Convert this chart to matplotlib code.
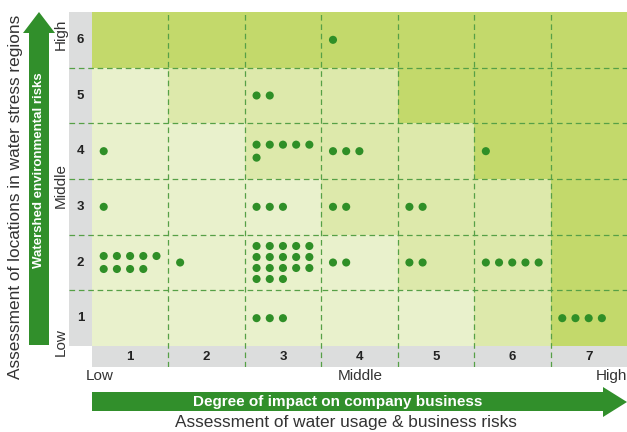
import math
import matplotlib
matplotlib.use("Agg")
import matplotlib.pyplot as plt
from matplotlib.patches import Rectangle, Polygon

plt.rcParams['font.family'] = ['Liberation Sans', 'DejaVu Sans']

# ---------------- data ----------------
x_categories = ["1", "2", "3", "4", "5", "6", "7"]
y_categories = ["1", "2", "3", "4", "5", "6"]
# risk level of each cell (0 light, 1 medium, 2 dark), rows from 1 (bottom) to 6 (top)
risk_level = [
    [0, 0, 0, 0, 0, 1, 2],
    [0, 0, 0, 0, 1, 1, 2],
    [0, 0, 0, 1, 1, 1, 2],
    [0, 0, 1, 1, 1, 2, 2],
    [0, 1, 1, 1, 2, 2, 2],
    [2, 2, 2, 2, 2, 2, 2],
]
dot_rows = [6, 5, 4, 4, 4, 4, 3, 3, 3, 3, 2, 2, 2, 2, 2, 2, 1, 1]
dot_cols = [4, 3, 1, 3, 4, 6, 1, 3, 4, 5, 1, 2, 3, 4, 5, 6, 3, 7]
dot_counts = [1, 2, 1, 6, 3, 1, 1, 3, 2, 2, 9, 1, 18, 2, 2, 5, 3, 4]
scale_labels = ["Low", "Middle", "High"]
x_title = "Assessment of water usage & business risks"
x_arrow_title = "Degree of impact on company business"
y_title = "Assessment of locations in water stress regions"
y_arrow_title = "Watershed environmental risks"

# ---------------- style ----------------
palette = ["#e9f1cc", "#dde9ab", "#c3d96b"]
gray = "#dcdddd"
dot_color = "#2f8f27"
arrow_color = "#318f2b"
dash_color = "#56a046"
text_color = "#333333"

W, H = 627, 432
fig = plt.figure(figsize=(W / 100, H / 100), dpi=100)


def fx(px):
    return px / W


def fy(py):
    return 1 - py / H


grid_left, grid_right, grid_top, grid_bottom = 92, 627, 12, 346
band_left, band_bottom = 69, 367
colw = (grid_right - grid_left) / 7
rowh = (grid_bottom - grid_top) / 6

ax = fig.add_axes([fx(band_left), fy(band_bottom), fx(grid_right) - fx(band_left),
                   fy(grid_top) - fy(band_bottom)])
xmin = 0.5 - (grid_left - band_left) / colw
ymin = 0.5 - (band_bottom - grid_bottom) / rowh
ax.set_xlim(xmin, 7.5)
ax.set_ylim(ymin, 6.5)
ax.axis('off')

# cells
for ri, row in enumerate(risk_level):
    for ci, lvl in enumerate(row):
        ax.add_patch(Rectangle((ci + 0.5, ri + 0.5), 1, 1, fc=palette[lvl], ec='none', zorder=1))

# gray label bands
ax.add_patch(Rectangle((xmin, 0.5), 0.5 - xmin, 6, fc=gray, ec='none', zorder=1))
ax.add_patch(Rectangle((0.5, ymin), 7, 0.5 - ymin, fc=gray, ec='none', zorder=1))
for i, lab in enumerate(y_categories):
    ax.text((xmin + 0.5) / 2, i + 1, lab, ha='center', va='center', fontsize=9.5,
            fontweight='bold', color='#222222', zorder=3)
for i, lab in enumerate(x_categories):
    ax.text(i + 1, (ymin + 0.5) / 2, lab, ha='center', va='center', fontsize=9.5,
            fontweight='bold', color='#222222', zorder=3)

# dashed grid
for c in range(1, 7):
    ax.plot([c + 0.5, c + 0.5], [ymin, 6.5], color=dash_color, lw=0.9,
            dashes=(4.5, 3), zorder=2)
for r in range(1, 6):
    ax.plot([xmin, 7.5], [r + 0.5, r + 0.5], color=dash_color, lw=0.9,
            dashes=(4.5, 3), zorder=2)

# dots
xs, ys = [], []
for r, c, n in zip(dot_rows, dot_cols, dot_counts):
    nrows = math.ceil(n / 5)
    vs = (13 if nrows <= 2 else 11) / rowh
    for k in range(n):
        row_i, col_i = divmod(k, 5)
        xs.append(c - 0.5 + (11.7 + 13.2 * col_i) / colw)
        ys.append(r + (nrows - 1) / 2 * vs - row_i * vs)
ax.scatter(xs, ys, s=34, color=dot_color, edgecolors='none', zorder=4)

# scale labels bottom
fig.text(fx(86), fy(376), scale_labels[0], ha='left', va='center', fontsize=11, color=text_color)
fig.text(fx(360), fy(376), scale_labels[1], ha='center', va='center', fontsize=11, color=text_color)
fig.text(fx(627), fy(376), scale_labels[2], ha='right', va='center', fontsize=11, color=text_color)
# scale labels left
fig.text(fx(61), fy(356), scale_labels[0], ha='center', va='bottom', rotation=90, fontsize=11, color=text_color)
fig.text(fx(61), fy(186), scale_labels[1], ha='center', va='center', rotation=90, fontsize=11, color=text_color)
fig.text(fx(61), fy(19), scale_labels[2], ha='center', va='top', rotation=90, fontsize=11, color=text_color)

# up arrow
up = [(29, 345), (49, 345), (49, 33), (55, 33), (39, 12), (23, 33), (29, 33)]
fig.patches.append(Polygon([(fx(a), fy(b)) for a, b in up], closed=True, fc=arrow_color,
                           ec='none', transform=fig.transFigure))
fig.text(fx(39.5), fy(170), y_arrow_title, ha='center', va='center', rotation=90,
         fontsize=9.5, fontweight='bold', color='white')

# right arrow
right = [(92, 392), (603, 392), (603, 387), (627, 402), (603, 417), (603, 411), (92, 411)]
fig.patches.append(Polygon([(fx(a), fy(b)) for a, b in right], closed=True, fc=arrow_color,
                           ec='none', transform=fig.transFigure))
fig.text(fx(338), fy(402), x_arrow_title, ha='center', va='center',
         fontsize=11, fontweight='bold', color='white')

fig.text(fx(346), fy(423), x_title, ha='center', va='center', fontsize=12.4, color=text_color)
fig.text(fx(16), fy(197), y_title, ha='center', va='center', rotation=90, fontsize=12.4, color=text_color)

fig.savefig("out.png", dpi=100)
